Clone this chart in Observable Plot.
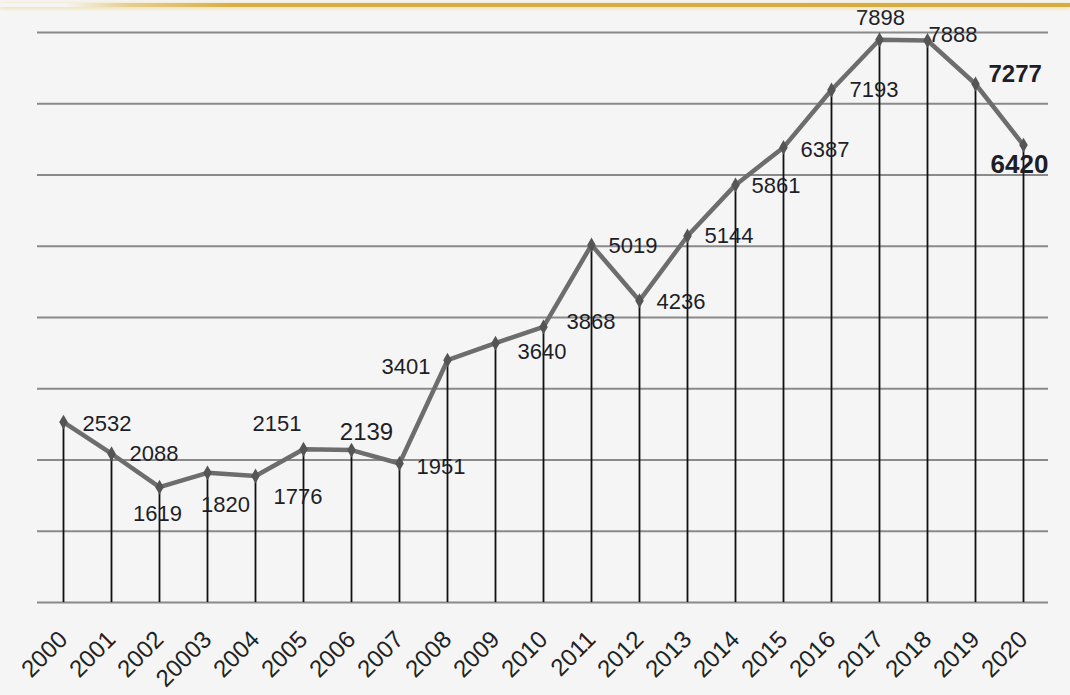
<!DOCTYPE html>
<html>
<head>
<meta charset="utf-8">
<script src="https://cdn.jsdelivr.net/npm/d3@7"></script>
<script src="https://cdn.jsdelivr.net/npm/@observablehq/plot@0.6"></script>
<style>
  html, body { margin: 0; padding: 0; background: #f5f5f5; }
  #wrap { position: relative; width: 1070px; height: 695px; overflow: hidden; }
  #goldbar {
    position: absolute; left: 0; top: 3px; width: 1070px; height: 4px;
    background: linear-gradient(to right, rgba(214,174,69,0) 6%, rgba(220,180,80,0.6) 12%, #d8ad45 22%, #d6ab42 100%);
    box-shadow: 0 1px 4px rgba(240,215,130,0.9);
  }
  svg { display: block; }
</style>
</head>
<body>
<div id="wrap"><div id="goldbar"></div><div id="chart"></div></div>
<script>
// ---- data ----
const years = ["2000","2001","2002","20003","2004","2005","2006","2007","2008","2009","2010",
               "2011","2012","2013","2014","2015","2016","2017","2018","2019","2020"];
const values = [2532,2088,1619,1820,1776,2151,2139,1951,3401,3640,3868,
                5019,4236,5144,5861,6387,7193,7898,7888,7277,6420];
const gridValues = [0,1000,2000,3000,4000,5000,6000,7000,8000];

const data = years.map((year, i) => ({year, value: values[i], i}));

// ---- label placement (style only) : [textAnchor, dx, dy, fontSize, fontWeight]
const placement = [
  ["start", 19, 2, 22, "normal"],
  ["start", 18, 0, 22, "normal"],
  ["middle", -2, 27, 22, "normal"],
  ["middle", 18, 32, 22, "normal"],
  ["start", 18, 21, 22, "normal"],
  ["end", -2, -25, 22, "normal"],
  ["middle", 15, -18, 24, "normal"],
  ["start", 17, 3, 22, "normal"],
  ["end", -17, 7, 22, "normal"],
  ["start", 22, 9, 22, "normal"],
  ["start", 23, -5, 22, "normal"],
  ["start", 17, 1, 22, "normal"],
  ["start", 17, 1, 22, "normal"],
  ["start", 17, 0, 22, "normal"],
  ["start", 16, 1, 22, "normal"],
  ["start", 17, 3, 22, "normal"],
  ["start", 18, 0, 22, "normal"],
  ["middle", 1, -22, 22, "normal"],
  ["start", 1, -6, 22, "normal"],
  ["start", 13, -10, 24, "bold"],
  ["middle", -4, 20, 26, "bold"]
];

const labelMarks = data.map((d, k) => {
  const [anchor, dx, dy, size, weight] = placement[k];
  return Plot.text([d], {
    x: "year", y: "value", text: d => String(d.value),
    textAnchor: anchor, dx, dy, fontSize: size, fontWeight: weight,
    fill: "#1e1e28"
  });
});

const chart = Plot.plot({
  width: 1070,
  height: 695,
  marginLeft: 37,
  marginRight: 22,
  marginTop: 32,
  marginBottom: 93,
  style: {background: "transparent", fontFamily: "'Liberation Sans', Arial, sans-serif"},
  x: {type: "point", domain: years, padding: 0.5, axis: null},
  y: {domain: [0, 8000], axis: null},
  marks: [
    Plot.ruleY(gridValues, {stroke: "#8a8a8a", strokeWidth: 2}),
    Plot.ruleX(data, {x: "year", y: "value", stroke: "#111", strokeWidth: 1.8}),
    Plot.line(data, {x: "year", y: "value", stroke: "#6d6d6d", strokeWidth: 4.5, strokeLinejoin: "round"}),
    Plot.dot(data, {x: "year", y: "value", symbol: "diamond", r: 4.5, fill: "#555", stroke: "none"}),
    ...labelMarks,
    Plot.text(data, {
      x: "year", frameAnchor: "bottom", text: "year",
      rotate: -45, textAnchor: "end", lineAnchor: "middle",
      dx: 0, dy: 33, fontSize: 24, fill: "#222"
    })
  ]
});
document.getElementById("chart").appendChild(chart);
</script>
</body>
</html>
